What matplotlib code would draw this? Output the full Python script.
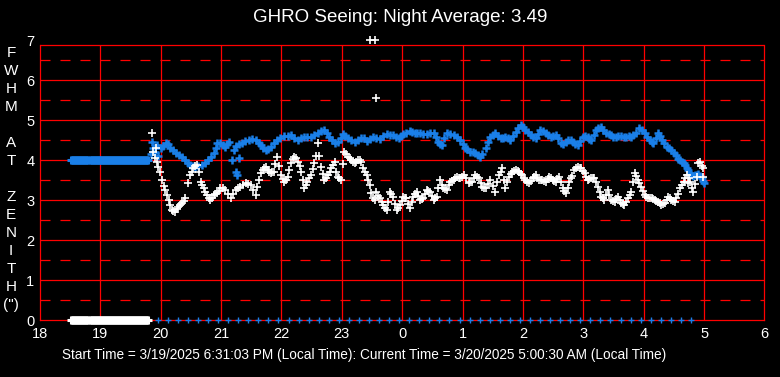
import numpy as np
import matplotlib
matplotlib.use('Agg')
import matplotlib.pyplot as plt

plt.rcParams['lines.scale_dashes'] = False

# hours after 18:00 local, continuing past midnight (24 = 0h)
hour_ticks = list(range(18, 31))
hour_labels = [str(h % 24) for h in hour_ticks]

title = 'GHRO Seeing: Night Average: 3.49'
footer = ('Start Time = 3/19/2025 6:31:03 PM (Local Time): '
          'Current Time = 3/20/2025 5:00:30 AM (Local Time)')
ylabel_letters = list('FWHM') + [''] + list('AT') + [''] + list('ZENITH') + ['(")']

# before the seeing monitor locks on: blue sits at 4.0 and white at 0
early_t = np.arange(18.52, 19.80, 1 / 60)
early_blue = np.full(len(early_t), 4.0)
early_white = np.zeros(len(early_t))

# blue markers along the zero line
zero_t = np.arange(19.95, 28.95, 1 / 6)
zero_v = np.zeros(len(zero_t))

blue_t = [19.84, 19.86, 19.88, 19.9, 19.93, 19.96, 20.0, 20.04, 20.08, 20.12, 20.16, 20.2,
          20.25, 20.3, 20.35, 20.4, 20.45, 20.49, 20.53, 20.57, 20.62, 20.68, 20.73, 20.79,
          20.84, 20.88, 20.91, 20.94, 20.99, 21.03, 21.07, 21.1, 21.13, 21.18, 21.21, 21.25,
          21.27, 21.29, 21.24, 21.3, 21.35, 21.4, 21.46, 21.51, 21.57, 21.62, 21.66, 21.7,
          21.74, 21.78, 21.82, 21.87, 21.93, 21.98, 22.04, 22.1, 22.16, 22.21, 22.27, 22.32,
          22.38, 22.43, 22.49, 22.54, 22.6, 22.66, 22.71, 22.75, 22.79, 22.84, 22.88, 22.93,
          22.98, 23.02, 23.06, 23.1, 23.16, 23.21, 23.27, 23.32, 23.36, 23.41, 23.46, 23.52,
          23.57, 23.63, 23.68, 23.74, 23.79, 23.85, 23.9, 23.94, 23.98, 24.02, 24.07, 24.13,
          24.17, 24.21, 24.25, 24.29, 24.35, 24.41, 24.46, 24.52, 24.56, 24.6, 24.63, 24.66,
          24.7, 24.74, 24.8, 24.85, 24.9, 24.96, 25.0, 25.04, 25.08, 25.13, 25.17, 25.21,
          25.25, 25.29, 25.33, 25.38, 25.42, 25.46, 25.5, 25.54, 25.59, 25.63, 25.67, 25.71,
          25.75, 25.79, 25.84, 25.88, 25.92, 25.96, 26.0, 26.04, 26.08, 26.13, 26.17, 26.21,
          26.25, 26.29, 26.33, 26.38, 26.42, 26.46, 26.5, 26.54, 26.58, 26.63, 26.67, 26.71,
          26.75, 26.79, 26.83, 26.87, 26.91, 26.95, 26.99, 27.03, 27.07, 27.1, 27.13, 27.17,
          27.21, 27.25, 27.29, 27.33, 27.38, 27.42, 27.46, 27.5, 27.54, 27.58, 27.63, 27.67,
          27.71, 27.75, 27.79, 27.83, 27.88, 27.93, 27.97, 28.02, 28.06, 28.1, 28.13, 28.16,
          28.2, 28.24, 28.27, 28.3, 28.34, 28.38, 28.42, 28.46, 28.5, 28.54, 28.57, 28.6,
          28.63, 28.66, 28.68, 28.71, 28.74, 28.77, 28.79, 28.82, 28.85, 28.88, 28.9, 28.93,
          28.96, 28.98, 29.0]
blue_v = [4.15, 4.45, 4.3, 4.2, 4.38, 4.1, 4.3, 4.35, 4.42, 4.4, 4.3, 4.25,
          4.18, 4.12, 4.08, 4.0, 3.93, 3.88, 3.85, 3.83, 3.86, 3.88, 3.93, 4.0,
          4.08, 4.17, 4.3, 4.42, 4.42, 4.38, 4.33, 4.4, 4.46, 4.0, 4.25, 3.71,
          3.62, 4.04, 4.35, 4.4, 4.42, 4.47, 4.5, 4.52, 4.5, 4.42, 4.37, 4.3,
          4.25, 4.28, 4.33, 4.42, 4.5, 4.55, 4.6, 4.6, 4.62, 4.56, 4.5, 4.55,
          4.58, 4.57, 4.58, 4.62, 4.67, 4.72, 4.75, 4.67, 4.58, 4.5, 4.42, 4.46,
          4.55, 4.65, 4.6, 4.54, 4.5, 4.46, 4.5, 4.55, 4.55, 4.48, 4.53, 4.57,
          4.55, 4.52, 4.6, 4.65, 4.63, 4.62, 4.57, 4.54, 4.6, 4.65, 4.68, 4.73,
          4.7, 4.67, 4.68, 4.67, 4.65, 4.65, 4.68, 4.67, 4.58, 4.46, 4.4, 4.37,
          4.55, 4.67, 4.65, 4.62, 4.57, 4.5, 4.4, 4.3, 4.27, 4.21, 4.2, 4.17,
          4.12, 4.08, 4.15, 4.29, 4.45, 4.58, 4.62, 4.67, 4.6, 4.54, 4.55, 4.58,
          4.55, 4.5, 4.6, 4.71, 4.8, 4.88, 4.82, 4.75, 4.7, 4.62, 4.58, 4.54,
          4.65, 4.75, 4.72, 4.68, 4.62, 4.58, 4.6, 4.62, 4.55, 4.42, 4.4, 4.46,
          4.5, 4.5, 4.45, 4.4, 4.37, 4.48, 4.58, 4.6, 4.58, 4.53, 4.5, 4.62,
          4.75, 4.8, 4.83, 4.75, 4.67, 4.64, 4.62, 4.58, 4.58, 4.6, 4.6, 4.58,
          4.58, 4.6, 4.58, 4.62, 4.67, 4.79, 4.75, 4.67, 4.58, 4.5, 4.45, 4.42,
          4.55, 4.67, 4.6, 4.5, 4.42, 4.33, 4.3, 4.25, 4.18, 4.12, 4.03, 4.0,
          3.96, 3.92, 3.88, 3.8, 3.75, 3.68, 3.62, 3.6, 3.62, 3.63, 3.65, 3.6,
          3.54, 3.48, 3.42]

white_t = [19.86, 19.88, 19.9, 19.92, 19.94, 19.96, 19.99, 20.02, 20.05, 20.07, 20.1, 20.13,
           20.16, 20.18, 20.21, 20.24, 20.27, 20.29, 20.32, 20.35, 20.38, 20.41, 20.45, 20.49,
           20.52, 20.54, 20.57, 20.6, 20.63, 20.66, 20.69, 20.71, 20.74, 20.77, 20.8, 20.82,
           20.85, 20.88, 20.9, 20.93, 20.96, 20.99, 21.03, 21.07, 21.11, 21.16, 21.2, 21.24,
           21.28, 21.32, 21.36, 21.41, 21.45, 21.49, 21.53, 21.57, 21.6, 21.63, 21.66, 21.69,
           21.71, 21.74, 21.77, 21.8, 21.82, 21.85, 21.88, 21.9, 21.93, 21.96, 21.99, 22.02,
           22.04, 22.07, 22.1, 22.13, 22.16, 22.19, 22.21, 22.24, 22.27, 22.3, 22.32, 22.35,
           22.38, 22.41, 22.43, 22.46, 22.49, 22.52, 22.54, 22.57, 22.6, 22.63, 22.66, 22.68,
           22.71, 22.74, 22.77, 22.8, 22.82, 22.85, 22.88, 22.91, 22.93, 22.96, 22.99, 23.02,
           23.04, 23.07, 23.1, 23.13, 23.16, 23.19, 23.21, 23.24, 23.27, 23.3, 23.32, 23.35,
           23.38, 23.41, 23.44, 23.46, 23.47, 23.49, 23.52, 23.55, 23.55, 23.57, 23.57, 23.6,
           23.63, 23.66, 23.68, 23.71, 23.74, 23.77, 23.79, 23.82, 23.85, 23.88, 23.91, 23.93,
           23.96, 23.99, 24.02, 24.05, 24.07, 24.1, 24.13, 24.16, 24.18, 24.21, 24.24, 24.27,
           24.29, 24.32, 24.35, 24.38, 24.41, 24.43, 24.46, 24.49, 24.52, 24.55, 24.57, 24.6,
           24.63, 24.66, 24.68, 24.71, 24.74, 24.77, 24.79, 24.82, 24.85, 24.88, 24.91, 24.94,
           24.96, 24.99, 25.02, 25.06, 25.1, 25.13, 25.16, 25.19, 25.21, 25.24, 25.27, 25.3,
           25.32, 25.35, 25.38, 25.42, 25.46, 25.5, 25.54, 25.57, 25.6, 25.63, 25.66, 25.69,
           25.71, 25.74, 25.77, 25.8, 25.82, 25.85, 25.88, 25.91, 25.93, 25.96, 25.99, 26.02,
           26.04, 26.07, 26.1, 26.13, 26.16, 26.19, 26.21, 26.24, 26.27, 26.3, 26.32, 26.35,
           26.38, 26.41, 26.43, 26.46, 26.49, 26.52, 26.54, 26.57, 26.6, 26.63, 26.66, 26.68,
           26.71, 26.74, 26.77, 26.8, 26.82, 26.85, 26.88, 26.91, 26.94, 26.96, 26.99, 27.02,
           27.04, 27.07, 27.1, 27.13, 27.16, 27.18, 27.21, 27.24, 27.27, 27.29, 27.32, 27.35,
           27.38, 27.41, 27.43, 27.46, 27.49, 27.52, 27.54, 27.57, 27.6, 27.63, 27.66, 27.68,
           27.71, 27.74, 27.77, 27.79, 27.82, 27.85, 27.88, 27.91, 27.93, 27.96, 27.99, 28.02,
           28.04, 28.07, 28.1, 28.13, 28.16, 28.18, 28.21, 28.24, 28.27, 28.29, 28.32, 28.35,
           28.38, 28.41, 28.43, 28.46, 28.49, 28.52, 28.54, 28.57, 28.6, 28.63, 28.66, 28.68,
           28.71, 28.73, 28.75, 28.77, 28.8, 28.82, 28.85, 28.88, 28.9, 28.93, 28.96, 28.98,
           28.99]
white_v = [4.67, 4.2, 4.05, 4.3, 3.95, 3.83, 3.71, 3.5, 3.35, 3.25, 3.12, 3.0,
           2.88, 2.75, 2.72, 2.71, 2.78, 2.83, 2.88, 2.92, 2.98, 3.04, 3.42, 3.62,
           3.7, 3.79, 3.85, 3.88, 3.7, 3.46, 3.38, 3.29, 3.2, 3.12, 3.05, 3.0,
           3.05, 3.12, 3.15, 3.17, 3.22, 3.29, 3.3, 3.25, 3.15, 3.04, 3.15, 3.25,
           3.3, 3.33, 3.38, 3.42, 3.4, 3.38, 3.25, 3.12, 3.33, 3.5, 3.67, 3.75,
           3.79, 3.82, 3.75, 3.7, 3.67, 3.69, 3.71, 3.9, 4.08, 3.85, 3.62, 3.52,
           3.46, 3.5, 3.58, 3.75, 3.92, 4.02, 4.08, 4.05, 3.96, 3.85, 3.71, 3.5,
           3.29, 3.38, 3.46, 3.55, 3.62, 3.78, 3.92, 4.1, 4.42, 4.1, 3.83, 3.65,
           3.5, 3.55, 3.62, 3.7, 3.79, 3.88, 3.96, 3.7, 3.58, 3.54, 3.5, 3.9,
           4.21, 4.15, 4.08, 4.04, 4.0, 3.95, 3.92, 3.96, 4.0, 4.0, 3.95, 3.79,
           3.7, 3.62, 3.5, 3.38, 7.0, 3.17, 3.05, 3.0, 7.0, 3.21, 5.55, 3.1,
           3.04, 2.95, 2.88, 2.8, 2.75, 2.95, 3.21, 3.15, 3.08, 2.9, 2.75, 2.8,
           2.88, 2.98, 3.08, 3.06, 3.04, 2.9, 2.79, 2.95, 3.08, 3.15, 3.21, 3.1,
           3.0, 3.02, 3.04, 3.15, 3.25, 3.23, 3.21, 3.1, 3.0, 3.05, 3.08, 3.3,
           3.5, 3.38, 3.29, 3.27, 3.25, 3.38, 3.46, 3.48, 3.5, 3.55, 3.58, 3.56,
           3.54, 3.58, 3.62, 3.55, 3.42, 3.44, 3.46, 3.55, 3.62, 3.58, 3.54, 3.42,
           3.33, 3.3, 3.29, 3.4, 3.5, 3.35, 3.21, 3.45, 3.62, 3.7, 3.79, 3.5,
           3.29, 3.45, 3.58, 3.65, 3.71, 3.73, 3.75, 3.73, 3.71, 3.66, 3.62, 3.56,
           3.5, 3.46, 3.42, 3.48, 3.54, 3.58, 3.62, 3.56, 3.5, 3.5, 3.5, 3.48,
           3.46, 3.52, 3.58, 3.54, 3.5, 3.48, 3.46, 3.52, 3.58, 3.45, 3.29, 3.22,
           3.17, 3.3, 3.46, 3.55, 3.6, 3.75, 3.8, 3.83, 3.81, 3.79, 3.72, 3.67,
           3.58, 3.5, 3.52, 3.54, 3.54, 3.54, 3.45, 3.33, 3.2, 3.08, 3.04, 3.0,
           3.12, 3.25, 3.12, 3.0, 2.98, 2.96, 3.02, 3.08, 3.0, 2.92, 2.9, 2.88,
           2.96, 3.04, 3.12, 3.21, 3.45, 3.67, 3.6, 3.5, 3.42, 3.33, 3.22, 3.12,
           3.08, 3.04, 3.04, 3.04, 3.02, 3.0, 2.98, 2.96, 2.92, 2.88, 2.9, 2.92,
           3.0, 3.08, 3.04, 3.0, 2.98, 2.96, 3.04, 3.15, 3.29, 3.38, 3.46, 3.55,
           3.62, 3.42, 3.55, 3.46, 3.3, 3.21, 3.4, 3.58, 3.92, 3.96, 3.85, 3.79,
           3.58]

blue = '#1a7fe8'
grid_red = '#ff0000'
frame_top = 6.875

fig = plt.figure(figsize=(7.8, 3.77), dpi=100, facecolor='black')
ax = fig.add_axes([40 / 780, 57 / 377, 724.4 / 780, 280 / 377])
ax.set_facecolor('black')
ax.set_xlim(18, 30)
ax.set_ylim(0, 7)

# grid: solid at whole units, dashed at halves
ax.hlines(range(1, 7), 18, 30, color=grid_red, lw=0.9, zorder=1)
ax.hlines(np.arange(0.5, 7, 1), 18, 30, color=grid_red, lw=0.9,
          linestyles=[(0, (7.2, 7.2))], zorder=1)
ax.hlines(frame_top, 18, 30, color=grid_red, lw=0.9, zorder=1)
ax.vlines(range(19, 30), 0, frame_top, color=grid_red, lw=0.9, zorder=1)

for side in ['left', 'right', 'bottom']:
    ax.spines[side].set_color(grid_red)
    ax.spines[side].set_linewidth(0.9)
ax.spines['top'].set_visible(False)
ax.spines['left'].set_bounds(0, frame_top)
ax.spines['right'].set_bounds(0, frame_top)

sans = ['Liberation Sans', 'DejaVu Sans']
ax.set_xticks(hour_ticks)
ax.set_xticklabels(hour_labels, family=sans, fontsize=10.5, color='white')
ax.set_yticks(range(0, 8))
ax.set_yticklabels([str(v) for v in range(0, 8)], family=sans, fontsize=10.5, color='white')
ax.tick_params(axis='y', length=0, pad=4)
ax.tick_params(axis='x', length=0, pad=5)

# data
ax.plot(early_t, early_blue, '+', color=blue, ms=6, mew=2.2, clip_on=False, zorder=3)
ax.plot(early_t, early_white, '+', color='white', ms=6, mew=2.2, clip_on=False, zorder=3)
ax.plot(zero_t, zero_v, '+', color=blue, ms=5, mew=1.0, clip_on=False, zorder=3)
ax.plot(blue_t, blue_v, '+', color=blue, ms=6, mew=1.8, clip_on=False, zorder=3)
ax.plot(white_t, white_v, '+', color='white', ms=6, mew=1.2, clip_on=False, zorder=4)

fig.text(400 / 780, 1 - 18 / 377, title, color='white', fontsize=13.5,
         family=sans, ha='center', va='center')
fig.text(364 / 780, 1 - 355 / 377, footer, color='white', fontsize=9.8,
         family=sans, ha='center', va='center')
for i, letter in enumerate(ylabel_letters):
    if letter:
        fig.text(11 / 780, 1 - (53 + 18 * i) / 377, letter, color='white', fontsize=11,
                 family=sans, ha='center', va='center')

fig.savefig('out.png', dpi=100, facecolor='black')
